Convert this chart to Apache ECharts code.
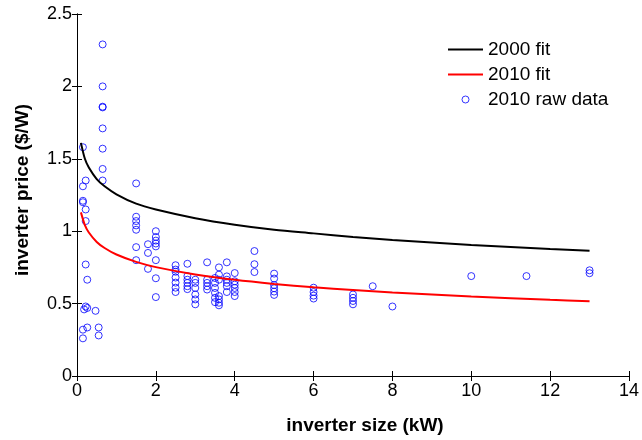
<!DOCTYPE html>
<html>
<head>
<meta charset="utf-8">
<script src="https://cdn.jsdelivr.net/npm/echarts@6/dist/echarts.min.js"></script>
<style>
  html, body { margin: 0; padding: 0; background: #fff; }
  #chart { width: 642px; height: 440px; }
</style>
</head>
<body>
<div id="chart"></div>
<script>
// 拟合曲线
const fitX = [0.1, 0.2, 0.3, 0.5, 0.7, 1, 1.5, 2, 3, 4, 5, 6, 7, 8, 10, 12, 13];
const fit2000 = [1.61, 1.50, 1.44, 1.36, 1.31, 1.255, 1.19, 1.15, 1.09, 1.045, 1.01, 0.985, 0.96, 0.94, 0.905, 0.877, 0.865];
const fit2010 = [1.13, 1.042, 0.991, 0.926, 0.884, 0.839, 0.788, 0.752, 0.701, 0.664, 0.636, 0.613, 0.594, 0.577, 0.549, 0.526, 0.516];

// 2010 原始数据: 每个逆变器容量对应的价格
const rawSizes = [0.15, 0.18, 0.22, 0.26, 0.47, 0.55, 0.65, 1.5, 1.8, 2, 2.5, 2.8, 3, 3.3, 3.5, 3.6, 3.8, 4, 4.5, 5, 6, 7, 7.5, 8, 10, 11.4, 13];
const rawPrices = [
  [1.58, 1.31, 1.21, 1.20, 0.32, 0.26],
  [0.46],
  [1.35, 1.15, 1.07, 0.77, 0.48],
  [0.665, 0.47, 0.335],
  [0.45],
  [0.335, 0.28],
  [2.29, 2.0, 1.86, 1.855, 1.71, 1.57, 1.43, 1.35],
  [1.33, 1.10, 1.07, 1.04, 1.01, 0.89, 0.80],
  [0.91, 0.85, 0.74],
  [1.0, 0.96, 0.935, 0.915, 0.895, 0.80, 0.675, 0.545],
  [0.765, 0.735, 0.72, 0.68, 0.645, 0.61, 0.58],
  [0.775, 0.69, 0.665, 0.643, 0.62, 0.60],
  [0.665, 0.643, 0.608, 0.563, 0.529, 0.495],
  [0.785, 0.665, 0.643, 0.62, 0.597],
  [0.677, 0.643, 0.608, 0.574, 0.54, 0.51],
  [0.75, 0.70, 0.665, 0.552, 0.529, 0.506, 0.488],
  [0.785, 0.688, 0.665, 0.643, 0.62, 0.58],
  [0.711, 0.654, 0.631, 0.608, 0.58, 0.552],
  [0.863, 0.772, 0.718],
  [0.707, 0.673, 0.628, 0.606, 0.583, 0.56],
  [0.61, 0.58, 0.555, 0.535],
  [0.563, 0.54, 0.518, 0.495],
  [0.62],
  [0.48],
  [0.69],
  [0.69],
  [0.73, 0.71]
];

const xTicks = [0, 2, 4, 6, 8, 10, 12, 14];
const yTicks = [0, 0.5, 1, 1.5, 2, 2.5];

(function () {
  const chart = echarts.init(document.getElementById('chart'));
  const font = 'Liberation Sans, Arial, sans-serif';

  const rawData = [];
  rawSizes.forEach((x, i) => rawPrices[i].forEach(y => rawData.push([x, y])));

  const line2000 = fitX.map((x, i) => [x, fit2000[i]]);
  const line2010 = fitX.map((x, i) => [x, fit2010[i]]);

  const frameAxis = {
    axisLine: { show: true, lineStyle: { color: '#000', width: 1 } },
    axisTick: { show: true, inside: true, length: 5, lineStyle: { color: '#000' } },
    splitLine: { show: false }
  };

  // 图例里的线段图标 (不带圆点)
  const lineIcon = 'path://M0,0H35V2H0Z';

  chart.setOption({
    animation: false,
    textStyle: { fontFamily: font },
    grid: { left: 77, right: 11, top: 14, bottom: 59 },
    legend: {
      orient: 'vertical',
      left: 448,
      top: 40,
      padding: 0,
      itemWidth: 35,
      itemHeight: 7,
      itemGap: 6,
      textStyle: { fontSize: 19, color: '#000', fontFamily: font },
      data: [
        { name: '2000 fit', icon: lineIcon },
        { name: '2010 fit', icon: lineIcon },
        {
          name: '2010 raw data', icon: 'circle',
          itemStyle: { color: 'rgba(0,0,0,0)', borderColor: '#0000ff', borderWidth: 1 }
        }
      ]
    },
    xAxis: [
      Object.assign({
        type: 'value', min: xTicks[0], max: xTicks[xTicks.length - 1], interval: 2,
        position: 'bottom',
        name: 'inverter size (kW)', nameLocation: 'middle', nameGap: 40,
        nameTextStyle: { fontSize: 19, fontWeight: 'bold', color: '#000', fontFamily: font, padding: [0, 0, 0, 24] },
        axisLabel: { fontSize: 18, color: '#000', margin: 6, fontFamily: font }
      }, frameAxis),
      Object.assign({
        type: 'value', min: 0, max: 14, interval: 2, position: 'top',
        axisLabel: { show: false }
      }, frameAxis)
    ],
    yAxis: [
      Object.assign({
        type: 'value', min: yTicks[0], max: yTicks[yTicks.length - 1], interval: 0.5,
        position: 'left',
        name: 'inverter price ($/W)', nameLocation: 'middle', nameGap: 45, nameRotate: 90,
        nameTextStyle: { fontSize: 19, fontWeight: 'bold', color: '#000', fontFamily: font, padding: [0, 0, 0, 10] },
        axisLabel: { fontSize: 18, color: '#000', margin: 5, fontFamily: font }
      }, frameAxis),
      Object.assign({
        type: 'value', min: 0, max: 2.5, interval: 0.5, position: 'right',
        axisLabel: { show: false }
      }, frameAxis)
    ],
    series: [
      {
        name: '2010 raw data',
        type: 'scatter',
        data: rawData,
        symbol: 'circle',
        symbolSize: 7,
        itemStyle: { color: 'rgba(0,0,0,0)', borderColor: '#0000ff', borderWidth: 1 },
        z: 2
      },
      {
        name: '2000 fit',
        type: 'line',
        data: line2000,
        smooth: 0.3,
        symbol: 'none',
        lineStyle: { color: '#000', width: 2 },
        itemStyle: { color: '#000' },
        z: 3
      },
      {
        name: '2010 fit',
        type: 'line',
        data: line2010,
        smooth: 0.3,
        symbol: 'none',
        lineStyle: { color: '#ff0000', width: 2 },
        itemStyle: { color: '#ff0000' },
        z: 3
      }
    ]
  });
})();
</script>
</body>
</html>
